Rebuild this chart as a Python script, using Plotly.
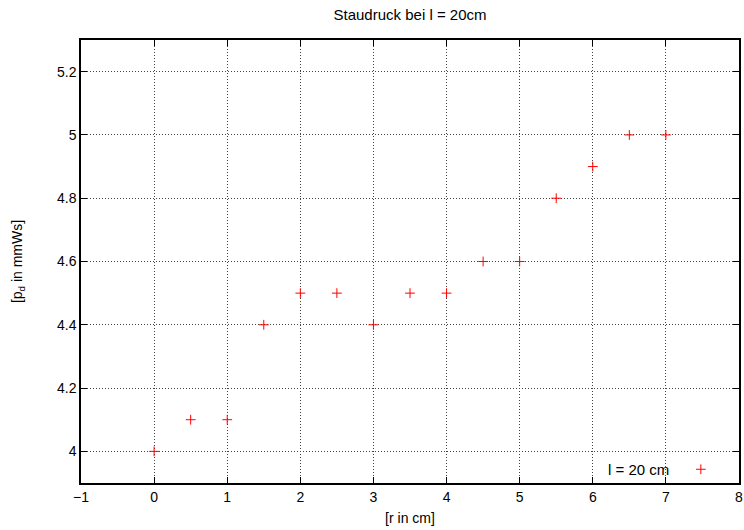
import plotly.graph_objects as go

r_cm = [0, 0.5, 1, 1.5, 2, 2.5, 3, 3.5, 4, 4.5, 5, 5.5, 6, 6.5, 7]
p_d = [4.0, 4.1, 4.1, 4.4, 4.5, 4.5, 4.4, 4.5, 4.5, 4.6, 4.6, 4.8, 4.9, 5.0, 5.0]
x_ticks = [-1, 0, 1, 2, 3, 4, 5, 6, 7, 8]
y_ticks = [4.0, 4.2, 4.4, 4.6, 4.8, 5.0, 5.2]
series_name = "l = 20 cm"

font = dict(family="Liberation Sans, Arial, sans-serif", size=14, color="black")
marker = dict(symbol="cross-thin", size=7, color="red", line=dict(color="red", width=1))

fig = go.Figure()
fig.add_trace(go.Scatter(
    x=r_cm, y=p_d, mode="markers", name=series_name,
    marker=marker, showlegend=False,
))
# legend sample marker (key) drawn on a hidden overlay axis
fig.add_trace(go.Scatter(
    x=[0.942], y=[0.031], mode="markers", xaxis="x2", yaxis="y2",
    marker=marker, showlegend=False, hoverinfo="skip",
))

axis_common = dict(
    showline=True, linecolor="black", linewidth=1.5, mirror="ticks",
    ticks="inside", ticklen=6, tickcolor="black", tickwidth=1,
    showgrid=True, gridcolor="#444444", gridwidth=1, griddash="1px,2px",
    zeroline=False, tickfont=font, automargin=False,
)

fig.update_layout(
    width=744, height=530,
    paper_bgcolor="white", plot_bgcolor="white",
    margin=dict(l=81, r=5, t=40, b=47, autoexpand=False),
    font=font,
    title=dict(text="Staudruck bei l = 20cm", x=(81 + 739) / 2 / 744, xanchor="center",
               y=1 - 15 / 530, yanchor="middle", font=dict(font, size=15)),
    xaxis=dict(range=[-1, 8], tickvals=x_ticks,
               title=dict(text="[r in cm]", font=font, standoff=10), **axis_common),
    yaxis=dict(range=[3.9, 5.3], tickvals=y_ticks,
               ticktext=[f"{v:g}" for v in y_ticks],
               title=dict(text="[p<sub>d</sub> in mmWs]", font=font, standoff=31),
               **axis_common),
    xaxis2=dict(range=[0, 1], overlaying="x", visible=False),
    yaxis2=dict(range=[0, 1], overlaying="y", visible=False),
    annotations=[dict(text=series_name, xref="paper", yref="paper",
                      x=0.897, y=0.031, xanchor="right", yanchor="middle",
                      showarrow=False, font=dict(font, size=15))],
)

fig.write_html("out.html", config={"displayModeBar": False},
               post_script="document.body.style.margin='0';document.body.style.overflow='hidden';")
